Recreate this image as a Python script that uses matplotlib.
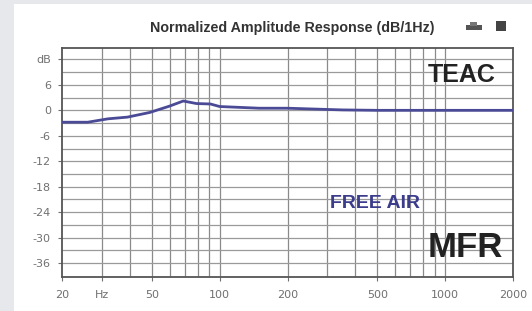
import matplotlib
matplotlib.use("Agg")
import matplotlib.pyplot as plt
from matplotlib.patches import Rectangle

# response curve
freq = [20, 26, 32, 39, 49, 60, 69, 79, 91, 100, 150, 200, 350, 500, 1000, 2000]
db = [-2.8, -2.8, -2.0, -1.6, -0.5, 1.0, 2.2, 1.6, 1.5, 0.9, 0.5, 0.5, 0.1, 0.0, 0.0, 0.0]

ytick_vals = [12, 6, 0, -6, -12, -18, -24, -30, -36]
ytick_labels = ["dB", "6", "0", "-6", "-12", "-18", "-24", "-30", "-36"]
xtick_vals = [20, 30, 50, 100, 200, 500, 1000, 2000]
xtick_labels = ["20", "Hz", "50", "100", "200", "500", "1000", "2000"]
xgrid = [30, 40, 50, 60, 70, 80, 90, 100, 200, 300, 400, 500, 600, 700, 800, 900, 1000]
ygrid = list(range(-36, 15, 3))

fig = plt.figure(figsize=(5.32, 3.11), dpi=100)
fig.patch.set_facecolor("#e6e8ec")
# white panel
fig.add_artist(Rectangle((14 / 532, 0), 1, 1 - 4 / 311, transform=fig.transFigure,
                         facecolor="white", edgecolor="none", zorder=0))

ax = fig.add_axes([62 / 532, 1 - 277 / 311, 451 / 532, 229 / 311])
ax.set_facecolor("white")
ax.set_xscale("log")
ax.set_xlim(20, 2000)
ax.set_ylim(-39.3, 14.7)

for f in xgrid:
    ax.axvline(f, color="#8a8a8a", lw=0.9, zorder=1)
for g in ygrid:
    ax.axhline(g, color="#9a9a9a", lw=0.9, zorder=1)

ax.plot(freq, db, color="#4a4a96", lw=2.0, zorder=3)

ax.set_yticks(ytick_vals)
ax.set_yticklabels(ytick_labels)
ax.set_xticks(xtick_vals)
ax.set_xticklabels(xtick_labels)
ax.minorticks_off()
ax.tick_params(axis="both", labelsize=8, colors="#707070", length=3, width=0.8)
ax.tick_params(axis="x", pad=6)
ax.tick_params(axis="y", pad=5)
for s in ax.spines.values():
    s.set_color("#555555")
    s.set_linewidth(1.3)

fig.text(292 / 532, 1 - 28 / 311, "Normalized Amplitude Response (dB/1Hz)",
         ha="center", va="center", fontsize=10.3, fontweight="bold", color="#333333",
         family="Liberation Sans")
ax.text(0.962, 0.88, "TEAC", transform=ax.transAxes, ha="right", va="center",
        fontsize=18, fontweight="bold", color="#222222", family="Liberation Sans")
ax.text(0.978, 0.13, "MFR", transform=ax.transAxes, ha="right", va="center",
        fontsize=25, fontweight="bold", color="#222222", family="Liberation Sans")
ax.text(0.595, 0.323, "FREE AIR", transform=ax.transAxes, ha="left", va="center",
        fontsize=14, fontweight="bold", color="#3c3c8c", family="Liberation Sans")

# little icons at top right
fig.add_artist(Rectangle((466 / 532, 1 - 30 / 311), 16 / 532, 5 / 311,
                         transform=fig.transFigure, facecolor="#555555", edgecolor="none"))
fig.add_artist(Rectangle((470 / 532, 1 - 26 / 311), 7 / 532, 4 / 311,
                         transform=fig.transFigure, facecolor="#777777", edgecolor="none"))
fig.add_artist(Rectangle((496 / 532, 1 - 31 / 311), 10 / 532, 10 / 311,
                         transform=fig.transFigure, facecolor="#444444", edgecolor="none"))

fig.savefig("out.png", dpi=100, facecolor=fig.get_facecolor())
